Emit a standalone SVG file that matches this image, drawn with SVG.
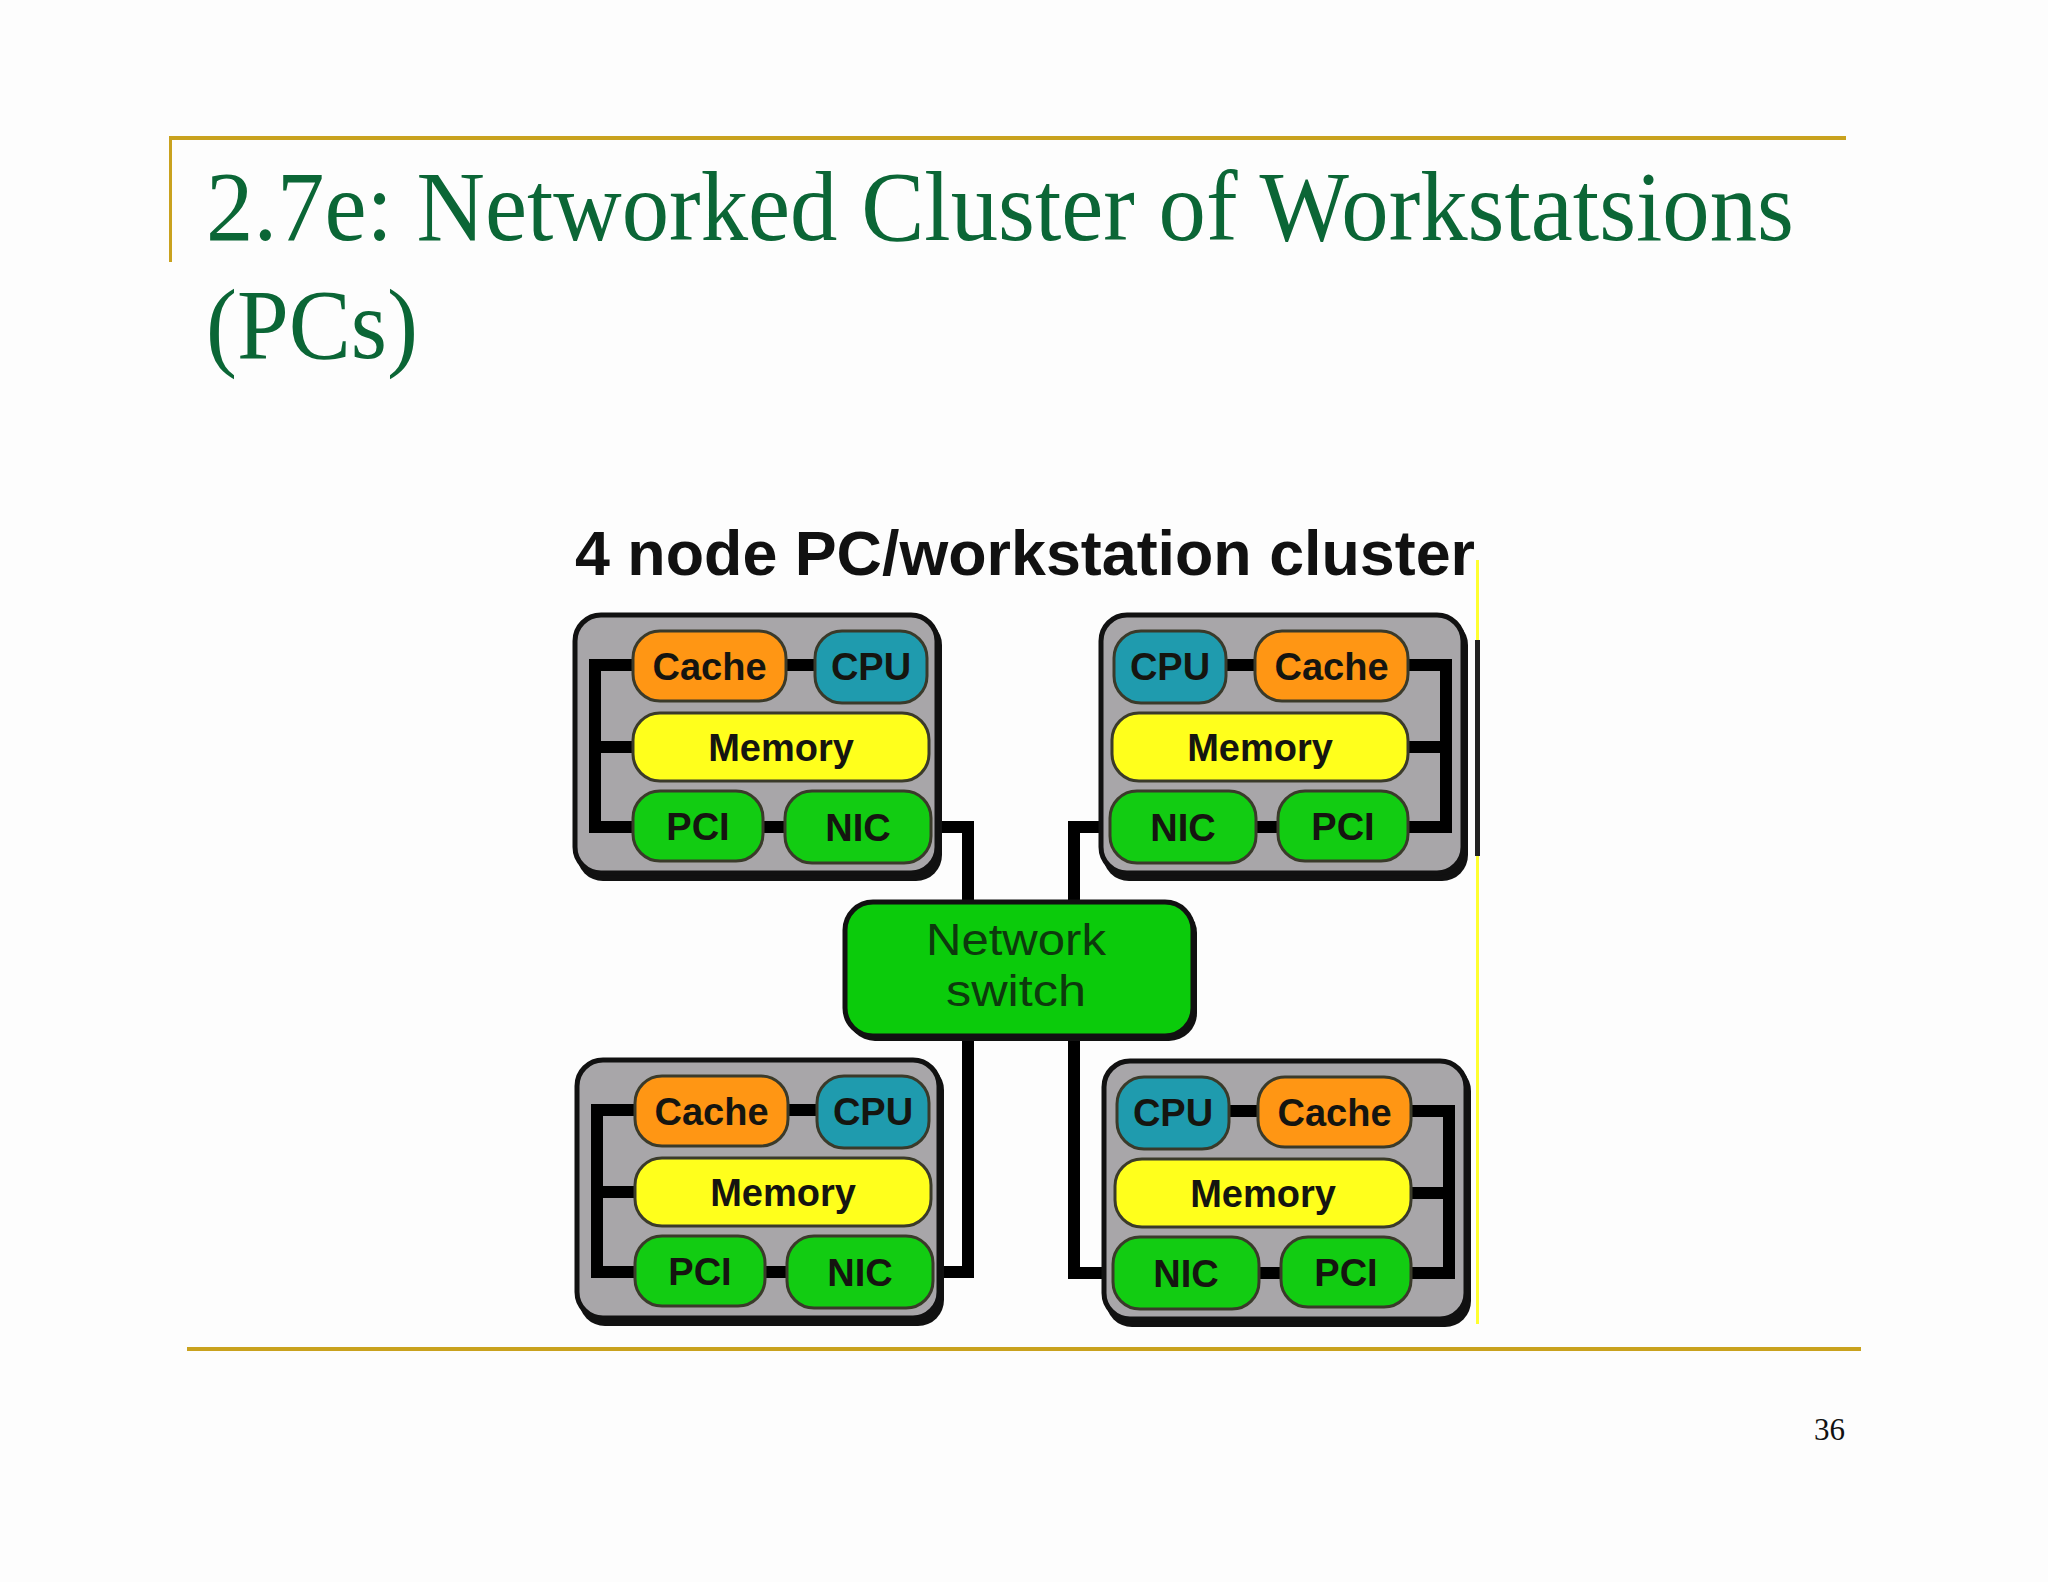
<svg xmlns="http://www.w3.org/2000/svg" width="2048" height="1582" viewBox="0 0 2048 1582">
<defs>
<style>
.title{font-family:"Liberation Serif","Times New Roman",serif;fill:#0B6636;font-size:100px}
.rule{fill:#C9A21E}
.box{fill:#A8A6A9;stroke:#111;stroke-width:5}
.shadow{fill:#111}
.comp{stroke:#3a3a2a;stroke-width:3}
.cache{fill:#FF9614}
.cpu{fill:#1F9BAE}
.mem{fill:#FFFF1C}
.grn{fill:#12CC12}
.lbl{font-family:"Liberation Sans",Arial,sans-serif;font-weight:bold;font-size:38px;fill:#151510;text-anchor:middle}
.bus{fill:none;stroke:#000;stroke-width:12;stroke-linejoin:miter}
.wire{fill:none;stroke:#000;stroke-width:12;stroke-linejoin:miter}
.sw{font-family:"Liberation Sans",Arial,sans-serif;font-size:45px;fill:#0d3a0d;text-anchor:middle}
</style>
<g id="nodeL">
<rect class="shadow" x="2" y="4" width="365" height="262" rx="26"/>
<rect class="box" x="0" y="0" width="362" height="258" rx="26"/>
<path class="bus" d="M58,50 H20 V212 H58 M20,132 H58 M211,50 H240 M188,212 H210"/>
<rect class="comp cache" x="58" y="16" width="153" height="70" rx="27"/>
<text class="lbl" x="134.5" y="65">Cache</text>
<rect class="comp cpu" x="240" y="16" width="112" height="72" rx="27"/>
<text class="lbl" x="296" y="65">CPU</text>
<rect class="comp mem" x="58" y="98" width="296" height="68" rx="27"/>
<text class="lbl" x="206" y="146">Memory</text>
<rect class="comp grn" x="58" y="176" width="130" height="70" rx="27"/>
<text class="lbl" x="123" y="225">PCI</text>
<rect class="comp grn" x="210" y="176" width="146" height="72" rx="27"/>
<text class="lbl" x="283" y="226">NIC</text>
</g>
<g id="nodeR">
<rect class="shadow" x="2" y="4" width="365" height="262" rx="26"/>
<rect class="box" x="0" y="0" width="362" height="258" rx="26"/>
<path class="bus" d="M307,50 H345 V212 H307 M345,132 H307 M154,50 H125 M177,212 H155"/>
<rect class="comp cpu" x="13" y="16" width="112" height="72" rx="27"/>
<text class="lbl" x="69" y="65">CPU</text>
<rect class="comp cache" x="154" y="16" width="153" height="70" rx="27"/>
<text class="lbl" x="230.5" y="65">Cache</text>
<rect class="comp mem" x="11" y="98" width="296" height="68" rx="27"/>
<text class="lbl" x="159" y="146">Memory</text>
<rect class="comp grn" x="9" y="176" width="146" height="72" rx="27"/>
<text class="lbl" x="82" y="226">NIC</text>
<rect class="comp grn" x="177" y="176" width="130" height="70" rx="27"/>
<text class="lbl" x="242" y="225">PCI</text>
</g>
</defs>
<rect x="0" y="0" width="2048" height="1582" fill="#FDFDFD"/>
<rect class="rule" x="170" y="136" width="1676" height="4"/>
<rect class="rule" x="169" y="136" width="3" height="126"/>
<text class="title" x="206" y="240" textLength="1588" lengthAdjust="spacingAndGlyphs">2.7e: Networked Cluster of Workstatsions</text>
<text class="title" x="206" y="358" textLength="212" lengthAdjust="spacingAndGlyphs">(PCs)</text>
<rect class="rule" x="187" y="1347" width="1674" height="4"/>
<text x="1814" y="1440" font-family="Liberation Serif,'Times New Roman',serif" font-size="31" fill="#111">36</text>

<text x="575" y="575" font-family="Liberation Sans,Arial,sans-serif" font-weight="bold" font-size="63" fill="#111" textLength="900" lengthAdjust="spacingAndGlyphs">4 node PC/workstation cluster</text>
<rect x="1476" y="560" width="3" height="764" fill="#FFFF30"/>
<rect x="1475" y="640" width="5" height="216" fill="#222"/>

<g id="connectors">
<path class="wire" d="M928,827 H968 V903"/>
<path class="wire" d="M1113,827 H1074 V903"/>
<path class="wire" d="M968,1036 V1272 H930"/>
<path class="wire" d="M1074,1036 V1273 H1116"/>
</g>

<g id="node-top-left"><use href="#nodeL" x="575" y="615"/></g>
<g id="node-top-right"><use href="#nodeR" x="1101" y="615"/></g>
<g id="node-bottom-left"><use href="#nodeL" x="577" y="1060"/></g>
<g id="node-bottom-right"><use href="#nodeR" x="1104" y="1061"/></g>

<g id="network-switch">
<rect x="847" y="905" width="350" height="136" rx="28" fill="#111"/>
<rect x="845" y="902" width="348" height="134" rx="28" fill="#0BCB0B" stroke="#111" stroke-width="5"/>
<text class="sw" x="1016" y="955" textLength="180" lengthAdjust="spacingAndGlyphs">Network</text>
<text class="sw" x="1016" y="1006" textLength="140" lengthAdjust="spacingAndGlyphs">switch</text>
</g>
</svg>
